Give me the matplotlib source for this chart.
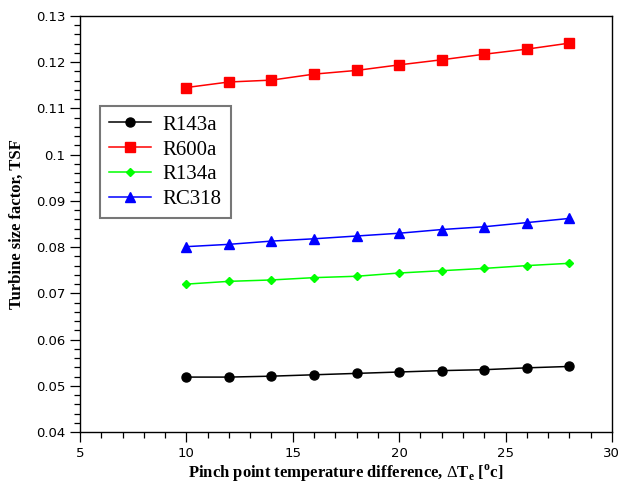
import matplotlib
matplotlib.use("Agg")
import matplotlib.pyplot as plt
from matplotlib.ticker import MultipleLocator, FuncFormatter

plt.rcParams["mathtext.fontset"] = "custom"
plt.rcParams["mathtext.rm"] = "Liberation Serif"
plt.rcParams["mathtext.bf"] = "Liberation Serif:bold"

# pinch point temperature difference [C]
dT = [10, 12, 14, 16, 18, 20, 22, 24, 26, 28]

# turbine size factor per working fluid
tsf_r143a = [0.0519, 0.0519, 0.0521, 0.0524, 0.0527, 0.0530, 0.0533, 0.0535, 0.0539, 0.0542]
tsf_r600a = [0.1145, 0.1157, 0.1161, 0.1174, 0.1182, 0.1194, 0.1205, 0.1217, 0.1228, 0.1241]
tsf_r134a = [0.0720, 0.0726, 0.0729, 0.0734, 0.0737, 0.0744, 0.0749, 0.0754, 0.0760, 0.0765]
tsf_rc318 = [0.0801, 0.0806, 0.0813, 0.0818, 0.0824, 0.0830, 0.0838, 0.0844, 0.0853, 0.0862]

series = [
    ("R143a", tsf_r143a, "black", "o", 6.5),
    ("R600a", tsf_r600a, "#ff0000", "s", 7),
    ("R134a", tsf_r134a, "#00ff00", "D", 4.5),
    ("RC318", tsf_rc318, "#0000ff", "^", 6.5),
]

fig = plt.figure(figsize=(6.25, 4.95), dpi=100)
ax = fig.add_axes([0.128, 0.127, 0.851, 0.841])

for name, y, color, marker, ms in series:
    ax.plot(dT, y, color=color, marker=marker, ms=ms, lw=1.1,
            markeredgecolor=color, label=name)

ax.set_xlim(5, 30)
ax.set_ylim(0.04, 0.13)
ax.xaxis.set_major_locator(MultipleLocator(5))
ax.xaxis.set_minor_locator(MultipleLocator(1))
ax.yaxis.set_major_locator(MultipleLocator(0.01))
ax.yaxis.set_minor_locator(MultipleLocator(0.002))
ax.yaxis.set_major_formatter(FuncFormatter(lambda v, p: f"{v:g}"))

ax.tick_params(which="both", direction="out", top=False, right=False,
               labelsize=9.5, width=0.9)
ax.tick_params(which="major", length=7)
ax.tick_params(which="minor", length=4)
for lbl in ax.get_xticklabels() + ax.get_yticklabels():
    lbl.set_fontfamily("DejaVu Sans")
for sp in ax.spines.values():
    sp.set_linewidth(1.0)

ax.set_ylabel("Turbine size factor, TSF", family="Liberation Serif",
              fontweight="bold", fontsize=12, labelpad=8)
ax.set_xlabel(r"Pinch point temperature difference, $\Delta\mathbf{T}_\mathbf{e}$ [$^\mathbf{o}$c]",
              family="Liberation Serif", fontweight="bold", fontsize=12, labelpad=2)

leg = ax.legend(loc="upper left", bbox_to_anchor=(0.037, 0.784), borderaxespad=0,
                prop={"family": "Liberation Serif", "size": 15},
                frameon=True, fancybox=False, handlelength=2.0,
                labelspacing=0.25, borderpad=0.45, handletextpad=0.55)
leg.get_frame().set_edgecolor("#555555")
leg.get_frame().set_linewidth(1.5)

fig.savefig("out.png", dpi=100)
